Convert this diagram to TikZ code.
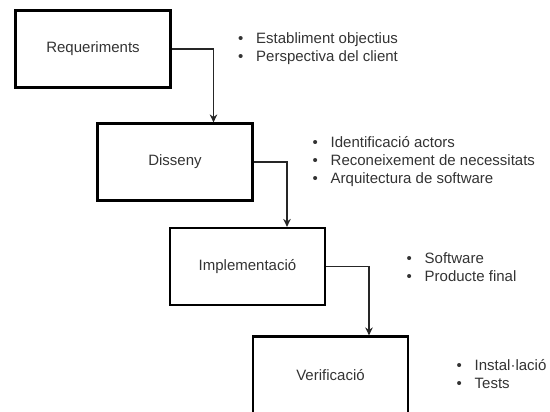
\documentclass[tikz,border=0pt]{standalone}
\usepackage{fontspec}
\setmainfont{Liberation Sans}
\usetikzlibrary{arrows.meta,calc}

\begin{document}
\begin{tikzpicture}[x=1pt,y=-1pt,>={Stealth[length=8pt,width=7.5pt]},
  phase/.style={draw=black,line width=2.2pt,minimum width=155pt,minimum height=77pt,
    inner sep=0pt,font=\fontsize{15}{18}\selectfont,text=black!80},
  points/.style={anchor=west,align=left,inner sep=0pt,
    font=\fontsize{15}{18}\selectfont,text=black!80},
  flow/.style={->,line width=1.3pt,black!85}]

\useasboundingbox (0,0) rectangle (550,412);

% ---------- Phases (waterfall boxes) ----------
\node[phase] (req) at (93,49)      {Requeriments};
\node[phase] (dis) at (175,162)    {Disseny};
\node[phase] (imp) at (247.5,266.5) {Implementació};
\node[phase] (ver) at (330.5,375)  {Verificació};   % bottom edge runs off the page

% ---------- Bullet lists next to each phase ----------
\def\bul{\makebox[18pt][l]{\textbullet}}   % bullet + gap to text

\node[points] (reqlist) at (238,49)    {\bul Establiment objectius\\ \bul Perspectiva del client};
\node[points] (dislist) at (312.5,162) {\bul Identificació actors\\ \bul Reconeixement de necessitats\\ \bul Arquitectura de software};
\node[points] (implist) at (406.5,267) {\bul Software\\ \bul Producte final};
\node[points] (verlist) at (456.5,374) {\bul Instal·lació\\ \bul Tests};

% ---------- Flow arrows (right side -> down into next box) ----------
\draw[flow] (req.east) -| ([xshift=38.5pt]dis.north);
\draw[flow] (dis.east) -| ([xshift=39.5pt]imp.north);
\draw[flow] (imp.east) -| ([xshift=38.5pt]ver.north);

\end{tikzpicture}
\end{document}
